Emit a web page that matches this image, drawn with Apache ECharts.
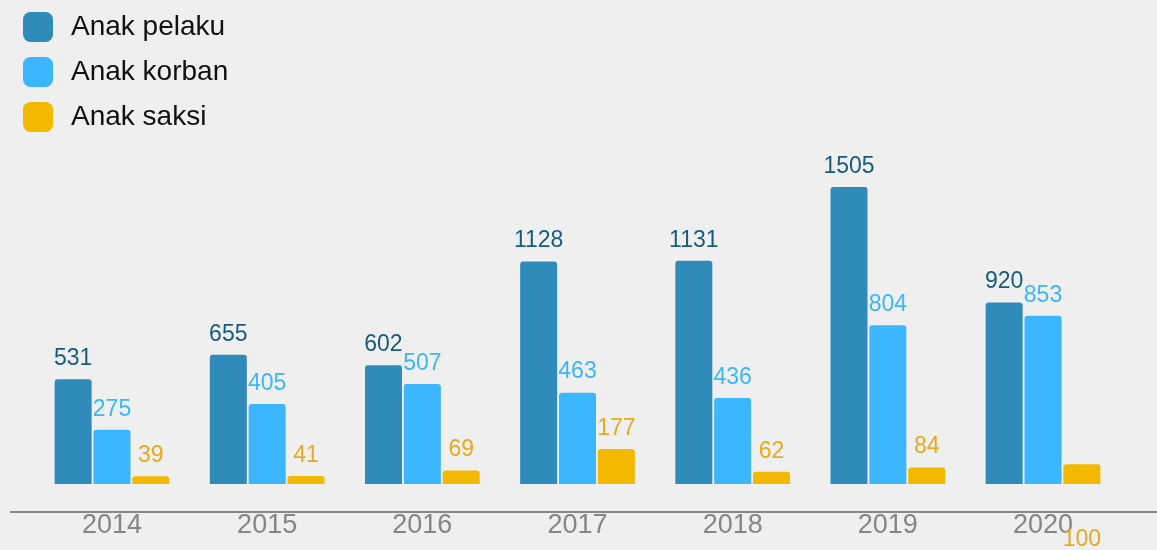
<!DOCTYPE html>
<html><head><meta charset="utf-8">
<script src="https://cdn.jsdelivr.net/npm/echarts@6/dist/echarts.min.js"></script>
<style>html,body{margin:0;padding:0;background:#efefef}#c{width:1157px;height:550px}</style>
</head><body><div id="c"></div>
<script>
const years = ['2014','2015','2016','2017','2018','2019','2020'];
const pelaku = [531, 655, 602, 1128, 1131, 1505, 920];
const korban = [275, 405, 507, 463, 436, 804, 853];
const saksi = [39, 41, 69, 177, 62, 84, 100];
const seriesNames = ['Anak pelaku', 'Anak korban', 'Anak saksi'];
const barColors = ['#2e8bba', '#3bb6ff', '#f2b900'];
const labelColors = ['#175b7e', '#3bb6ff', '#e8a920'];

const font = '"Liberation Sans", Arial, sans-serif';
const chart = echarts.init(document.getElementById('c'));
function mk(i, data) {
  return {
    name: seriesNames[i], type: 'bar', data: data.map((v, j) => {
      if (i === 2 && j === 6) return {value: v, label: {position: 'bottom', distance: 44}};
      return v;
    }),
    barWidth: 37, barGap: '5%',
    itemStyle: {color: barColors[i], borderRadius: [3, 3, 0, 0]},
    label: {show: true, position: 'top', distance: 9, color: labelColors[i],
      fontSize: 23, fontFamily: font},
    animation: false
  };
}
chart.setOption({
  backgroundColor: '#efefef',
  animation: false,
  legend: {
    orient: 'vertical', left: 23, top: 12, padding: 0, itemWidth: 30, itemHeight: 30, itemGap: 15,
    icon: 'roundRect', textStyle: {fontSize: 28, color: '#111', fontFamily: font, padding: [0, 0, 0, 13]},
    data: seriesNames
  },
  grid: {left: 34.4, right: 36.4, top: 187, bottom: 66},
  xAxis: {
    type: 'category', data: years, offset: 28,
    axisLine: {show: false}, axisTick: {show: false},
    axisLabel: {color: '#858585', fontSize: 27, fontFamily: font, margin: 0}
  },
  yAxis: {type: 'value', min: 0, max: 1505, show: false, splitLine: {show: false}},
  graphic: [{type: 'line', shape: {x1: 10, y1: 512, x2: 1157, y2: 512},
    style: {stroke: '#888', lineWidth: 2}, silent: true}],
  series: [mk(0, pelaku), mk(1, korban), mk(2, saksi)]
});
</script></body></html>
